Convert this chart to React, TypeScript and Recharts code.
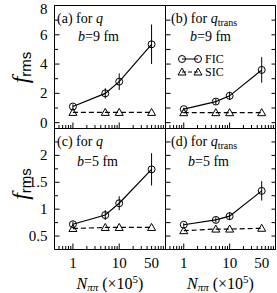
import React from 'react';
import { LineChart, Line, XAxis, YAxis, ErrorBar, Legend } from 'recharts';

// ---- data ----
const nPiPi = [1, 5, 10, 50];
const ficA = [1.1, 2.0, 2.8, 5.35];
const ficAErr = [0.15, 0.35, 0.57, 1.35];
const sicA = [0.7, 0.7, 0.7, 0.7];
const ficB = [0.92, 1.44, 1.83, 3.6];
const ficBErr = [0.1, 0.2, 0.29, 0.87];
const sicB = [0.68, 0.68, 0.68, 0.68];
const ficC = [0.72, 0.89, 1.11, 1.74];
const ficCErr = [0.05, 0.09, 0.13, 0.3];
const sicC = [0.64, 0.66, 0.66, 0.66];
const ficD = [0.71, 0.8, 0.87, 1.34];
const ficDErr = [0.03, 0.05, 0.07, 0.18];
const sicD = [0.6, 0.63, 0.63, 0.645];

const xTicks = [0.5, 0.6, 0.7, 0.8, 0.9, 1, 2, 3, 4, 5, 6, 7, 8, 9, 10, 20, 30, 40, 50, 60, 70, 80, 90, 100];
const xMajor = [1, 10, 100];
const xLabels = [1, 10, 50];
const yTicksTop = [0, 1, 2, 3, 4, 5, 6, 7, 8];
const yMajorTop = [0, 2, 4, 6, 8];
const yTicksBot = [0.5, 0.75, 1, 1.25, 1.5, 1.75, 2, 2.25];
const yMajorBot = [0.5, 1, 1.5, 2];
const xDomain = [0.4, 100];
const yDomainTop = [-0.4, 8];
const yDomainBot = [0.25, 2.5];

const SERIF = "'Liberation Serif', 'Times New Roman', serif";
const SANS = "'Liberation Sans', 'DejaVu Sans', sans-serif";

const build = (fic: number[], err: number[], sic: number[]) =>
  nPiPi.map((n, i) => ({ n, fic: fic[i], err: err[i], sic: sic[i] }));

const makeXTick = (labels: boolean) => (props: any) => {
  const { x, y, payload } = props;
  const v = payload.value;
  const len = xMajor.includes(v) ? 6 : 3.5;
  return (
    <g>
      <line x1={x} x2={x} y1={y} y2={y - len} stroke="#000" strokeWidth={1} />
      {labels && xLabels.includes(v) && (
        <text x={x} y={y + 18} textAnchor="middle" fontFamily={SERIF} fontSize={15} fill="#000">
          {v}
        </text>
      )}
    </g>
  );
};

const makeYTick = (side: 'left' | 'right', majors: number[] | null, labels: boolean) => (props: any) => {
  const { x, y, payload } = props;
  const v = payload.value;
  const major = majors ? majors.includes(v) : true;
  const len = majors ? (major ? 5 : 3.5) : 4;
  const dir = side === 'left' ? 1 : -1;
  return (
    <g>
      <line x1={x} x2={x + dir * len} y1={y} y2={y} stroke="#000" strokeWidth={1} />
      {labels && major && (
        <text x={x - 7} y={Math.max(y + 5, 13.5)} textAnchor="end" fontFamily={SERIF} fontSize={15} fill="#000">
          {v}
        </text>
      )}
    </g>
  );
};

const Tri = (props: any) => {
  const { cx, cy, index } = props;
  if (cx == null || cy == null) return <g key={`t${index}`} />;
  const s = 4;
  return (
    <path
      key={`t${index}`}
      d={`M${cx},${cy - s} L${cx + s},${cy + s * 0.75} L${cx - s},${cy + s * 0.75} Z`}
      fill="none"
      stroke="#000"
      strokeWidth={1}
    />
  );
};

const renderLegend = (props: any) => {
  const payload = props.payload || [];
  return (
    <svg width={60} height={28} style={{ overflow: 'visible', display: 'block' }}>
      {payload.map((e: any, i: number) => {
        const cy = 7 + i * 13;
        return (
          <g key={i}>
            <line x1={4} x2={20} y1={cy} y2={cy} stroke="#000" strokeDasharray={i === 1 ? '4 2' : undefined} />
            {i === 0 ? (
              <>
                <circle cx={4} cy={cy} r={3.5} fill="none" stroke="#000" />
                <circle cx={20} cy={cy} r={3.5} fill="none" stroke="#000" />
              </>
            ) : (
              <>
                <Tri cx={4} cy={cy} index={0} />
                <Tri cx={20} cy={cy} index={1} />
              </>
            )}
            <text x={27} y={cy + 4.2} fontFamily={SERIF} fontSize={12} fill="#000">
              {e.value}
            </text>
          </g>
        );
      })}
    </svg>
  );
};

type PanelProps = {
  data: any[];
  yDomain: number[];
  yTicks: number[];
  yMajor: number[];
  left: number;
  right: number;
  top: number;
  bottom: number;
  yLabels: boolean;
  xLabels: boolean;
  rightAxis: boolean;
  rightMajor: number[] | null;
  legend: boolean;
  children?: React.ReactNode;
};

const W = 277;
const H = 293;

const Panel = (p: PanelProps) => (
  <div style={{ position: 'absolute', left: 0, top: 0 }}>
    <LineChart
      width={W}
      height={H}
      data={p.data}
      margin={{ left: p.left - 30, top: p.top - 1, right: W - p.right - (p.rightAxis ? 1 : 0), bottom: H - p.bottom - 20 }}
    >
      <XAxis
        xAxisId="b"
        dataKey="n"
        type="number"
        scale="log"
        domain={xDomain}
        allowDataOverflow
        ticks={xTicks}
        interval={0}
        tickSize={0}
        tickMargin={0}
        tickLine={false}
        axisLine={{ stroke: '#000', strokeWidth: 1 }}
        tick={makeXTick(p.xLabels)}
        height={20}
      />
      <XAxis
        xAxisId="t"
        orientation="top"
        dataKey="n"
        type="number"
        scale="log"
        domain={xDomain}
        allowDataOverflow
        tick={false}
        tickLine={false}
        axisLine={{ stroke: '#000', strokeWidth: 1 }}
        height={1}
      />
      <YAxis
        yAxisId="l"
        type="number"
        domain={p.yDomain}
        allowDataOverflow
        ticks={p.yTicks}
        interval={0}
        tickSize={0}
        tickMargin={0}
        tickLine={false}
        axisLine={{ stroke: '#000', strokeWidth: 1 }}
        tick={makeYTick('left', p.yMajor, p.yLabels)}
        width={30}
      />
      {p.rightAxis && (
        <YAxis
          yAxisId="r"
          orientation="right"
          type="number"
          domain={p.yDomain}
          allowDataOverflow
          ticks={p.yTicks}
          interval={0}
          tickSize={0}
          tickMargin={0}
          tickLine={false}
          axisLine={{ stroke: '#000', strokeWidth: 1 }}
          tick={makeYTick('right', p.rightMajor, false)}
          width={1}
        />
      )}
      <Line
        xAxisId="b"
        yAxisId="l"
        dataKey="fic"
        name="FIC"
        stroke="#000"
        strokeWidth={1.2}
        dot={{ r: 3.5, fill: 'none', stroke: '#000', strokeWidth: 1 }}
        activeDot={false}
        isAnimationActive={false}
      >
        <ErrorBar dataKey="err" direction="y" width={0} stroke="#000" strokeWidth={1} isAnimationActive={false} />
      </Line>
      <Line
        xAxisId="b"
        yAxisId="l"
        dataKey="sic"
        name="SIC"
        stroke="#000"
        strokeWidth={1.2}
        strokeDasharray="5 3"
        dot={Tri}
        activeDot={false}
        isAnimationActive={false}
      />
      {p.legend && (
        <Legend
          layout="vertical"
          align="center"
          verticalAlign="middle"
          content={renderLegend}
          wrapperStyle={{ left: 178, top: 52, width: 70 }}
        />
      )}
      {p.children}
    </LineChart>
  </div>
);

const PanelTitle = ({ x, y, letter, trans }: { x: number; y: number; letter: string; trans: boolean }) => (
  <text x={x} y={y} fontFamily={SERIF} fontSize={14} fill="#000">
    ({letter}) for <tspan fontStyle="italic">q</tspan>
    {trans && (
      <tspan fontSize={10} dy={3}>
        trans
      </tspan>
    )}
  </text>
);

const BText = ({ x, y, v }: { x: number; y: number; v: string }) => (
  <text x={x} y={y} fontFamily={SERIF} fontSize={14} fill="#000">
    <tspan fontStyle="italic">b</tspan>={v} fm
  </text>
);

const YLab = ({ x, y }: { x: number; y: number }) => (
  <text x={x} y={y} transform={`rotate(-90 ${x} ${y})`} textAnchor="middle" fill="#000">
    <tspan fontFamily={SERIF} fontStyle="italic" fontSize={24}>
      f
    </tspan>
    <tspan fontFamily={SANS} fontSize={15} dy={3}>
      rms
    </tspan>
  </text>
);

const XLab = ({ x, y }: { x: number; y: number }) => (
  <text x={x} y={y} textAnchor="middle" fontFamily={SERIF} fontSize={16} fill="#000">
    <tspan fontStyle="italic">N</tspan>
    <tspan fontStyle="italic" fontSize={11} dy={2}>
      ππ
    </tspan>
    <tspan dy={-2}> (×10</tspan>
    <tspan fontSize={11} dy={-6}>
      5
    </tspan>
    <tspan dy={6}>)</tspan>
  </text>
);

export default function App() {
  const dA = build(ficA, ficAErr, sicA);
  const dB = build(ficB, ficBErr, sicB);
  const dC = build(ficC, ficCErr, sicC);
  const dD = build(ficD, ficDErr, sicD);
  const TL = 54.5, MID = 165.5, TR = 275.5, TOP = 5.5, SEP = 128.5, BOT = 249.5;
  return (
    <div style={{ position: 'absolute', left: 0, top: 0, width: W, height: H, background: '#fff' }}>
      <Panel data={dA} yDomain={yDomainTop} yTicks={yTicksTop} yMajor={yMajorTop} left={TL} right={MID} top={TOP} bottom={SEP}
        yLabels xLabels={false} rightAxis={false} rightMajor={null} legend={false}>
        <PanelTitle x={57} y={23} letter="a" trans={false} />
        <BText x={78} y={41} v="9" />
        <YLab x={28} y={67.5} />
      </Panel>
      <Panel data={dB} yDomain={yDomainTop} yTicks={yTicksTop} yMajor={yTicksTop} left={MID} right={TR} top={TOP} bottom={SEP}
        yLabels={false} xLabels={false} rightAxis rightMajor={null} legend>
        <PanelTitle x={171} y={23} letter="b" trans />
        <BText x={190} y={41} v="9" />
      </Panel>
      <Panel data={dC} yDomain={yDomainBot} yTicks={yTicksBot} yMajor={yMajorBot} left={TL} right={MID} top={SEP} bottom={BOT}
        yLabels xLabels rightAxis={false} rightMajor={null} legend={false}>
        <PanelTitle x={57} y={146} letter="c" trans={false} />
        <BText x={77} y={166} v="5" />
        <YLab x={28} y={184} />
        <XLab x={110} y={288.5} />
      </Panel>
      <Panel data={dD} yDomain={yDomainBot} yTicks={yTicksBot} yMajor={yTicksBot} left={MID} right={TR} top={SEP} bottom={BOT}
        yLabels={false} xLabels rightAxis rightMajor={null} legend={false}>
        <PanelTitle x={171} y={146} letter="d" trans />
        <BText x={188} y={166} v="5" />
        <XLab x={220.5} y={288.5} />
      </Panel>
    </div>
  );
}
